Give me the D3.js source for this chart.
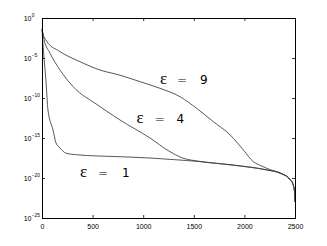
<!DOCTYPE html>
<html><head><meta charset="utf-8">
<script src="https://cdn.jsdelivr.net/npm/d3@7"></script>
<style>
html,body{margin:0;padding:0;background:#fff;}
svg{display:block;}
</style></head>
<body>
<svg id="c" width="327" height="246"></svg>
<script>
// iteration counts and log10 of the residual for each epsilon
const iters1 = [0, 15, 40, 59, 109, 138, 178, 237, 350, 553, 800, 1067, 1300, 1561, 1890, 2220, 2352, 2450, 2480, 2493, 2498, 2500];
const logv1  = [-1.4, -4.2, -8.0, -11.5, -14, -15.6, -16.25, -16.9, -17.1, -17.25, -17.35, -17.5, -17.7, -17.95, -18.4, -19.0, -19.4, -20.2, -20.8, -21.5, -22.2, -23];
const iters4 = [0, 20, 79, 178, 309, 553, 771, 1067, 1250, 1390, 1561, 1890, 2220, 2352, 2450, 2480, 2493, 2498, 2500];
const logv4  = [-1.4, -2.7, -4.4, -6.5, -8.6, -10.9, -12.75, -15, -16.6, -17.5, -17.93, -18.38, -18.98, -19.38, -20.18, -20.78, -21.48, -22.2, -23];
const iters9 = [0, 15, 46, 178, 375, 573, 771, 968, 1166, 1364, 1529, 1693, 1858, 1990, 2088, 2171, 2253, 2352, 2450, 2480, 2493, 2498, 2500];
const logv9  = [-1.4, -2.2, -2.9, -4.2, -5.46, -6.5, -7.15, -7.96, -8.79, -9.84, -11.3, -12.96, -14.6, -16.5, -17.96, -18.5, -18.95, -19.36, -20.16, -20.76, -21.46, -22.2, -23];
const labelEps = ["1", "4", "9"];
const xTicks = [0, 500, 1000, 1500, 2000, 2500];
const yTickExps = [0, -5, -10, -15, -20, -25];

const svg = d3.select("#c");
const L = 42, R = 295, T = 18, B = 218;
const x = d3.scaleLinear().domain([0, 2500]).range([L, R]);
const y = d3.scaleLog().domain([1e-25, 1]).range([B, T]);

const series = [[iters1, logv1], [iters4, logv4], [iters9, logv9]].map(([a, b]) => a.map((v, i) => [v, Math.pow(10, b[i])]));
const line = d3.line().x(d => x(d[0])).y(d => y(d[1])).curve(d3.curveMonotoneX);

svg.append("g").selectAll("path.s").data(series).join("path")
  .attr("class", "s")
  .attr("d", line)
  .attr("fill", "none")
  .attr("stroke", "#3a3a3a")
  .attr("stroke-width", 0.85);

// frame
svg.append("rect").attr("x", L).attr("y", T).attr("width", R - L).attr("height", B - T)
  .attr("fill", "none").attr("stroke", "#000").attr("stroke-width", 1).attr("shape-rendering", "crispEdges");

const tickVals = yTickExps.map(e => Math.pow(10, e));
const xb = d3.axisBottom(x).tickValues(xTicks).tickSizeInner(-3).tickSizeOuter(0).tickPadding(6).tickFormat(d3.format("d"));
const gx = svg.append("g").attr("transform", `translate(0,${B})`).call(xb);
gx.select(".domain").remove();
gx.selectAll("text").attr("font-family", "Liberation Sans, Arial, sans-serif").attr("font-size", 7).attr("fill", "#000");
const gxt = svg.append("g").attr("transform", `translate(0,${T})`).call(d3.axisTop(x).tickValues(xTicks).tickSizeInner(-3).tickSizeOuter(0).tickFormat(""));
gxt.select(".domain").remove();
const gyl = svg.append("g").attr("transform", `translate(${L},0)`).call(d3.axisLeft(y).tickValues(tickVals).tickSizeInner(-3).tickSizeOuter(0).tickFormat(""));
gyl.select(".domain").remove();
const gyr = svg.append("g").attr("transform", `translate(${R},0)`).call(d3.axisRight(y).tickValues(tickVals).tickSizeInner(-3).tickSizeOuter(0).tickFormat(""));
gyr.select(".domain").remove();
svg.selectAll(".tick line").attr("stroke", "#000").attr("stroke-width", 0.8);

// y tick labels 10^k
const yLab = svg.append("g").attr("font-family", "Liberation Sans, Arial, sans-serif").attr("fill", "#000");
yTickExps.forEach(e => {
  const yy = y(Math.pow(10, e));
  yLab.append("text").attr("x", 31.5).attr("y", yy + 2.5).attr("text-anchor", "end").attr("font-size", 7).text("10");
  yLab.append("text").attr("x", 31.8).attr("y", yy - 1.5).attr("font-size", 4.8).text(e === 0 ? "0" : "\u2212" + Math.abs(e));
});

// curve labels
const labPos = [[80, 177, 18, 42], [136.5, 123, 18.3, 40], [160, 84.3, 17, 40]];
const lg = svg.append("g").attr("fill", "#000");
labelEps.forEach((v, i) => {
  const [lx, ly, dEq, dNum] = labPos[i];
  const t = lg.append("text").attr("y", ly);
  t.append("tspan").attr("x", lx).attr("font-family", "Liberation Serif, DejaVu Serif, serif").attr("font-size", 17).text("\u03b5");
  t.append("tspan").attr("x", lx + dEq).attr("font-family", "DejaVu Sans, sans-serif").attr("font-weight", 300).attr("font-size", 12).text("=");
  t.append("tspan").attr("x", lx + dNum).attr("font-family", "DejaVu Sans, sans-serif").attr("font-size", 12).text(v);
});
</script>
</body></html>
